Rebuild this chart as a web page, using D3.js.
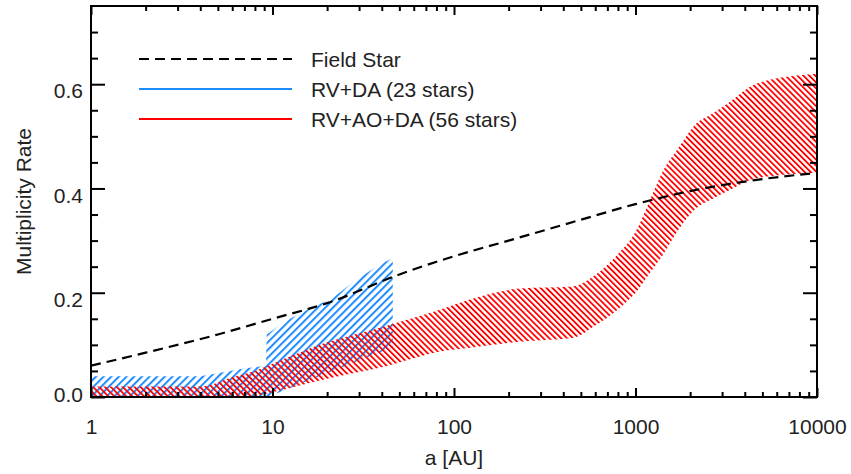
<!DOCTYPE html>
<html>
<head>
<meta charset="utf-8">
<script src="https://cdn.jsdelivr.net/npm/d3@7/dist/d3.min.js"></script>
<style>
  body { margin: 0; background: #fff; }
  text { font-family: "Liberation Sans", Arial, Helvetica, sans-serif; fill: #222; }
</style>
</head>
<body>
<svg id="chart" width="851" height="474"></svg>
<script>
// tick labels
const xTicks = [1, 10, 100, 1000, 10000];
const yTicks = [0, 0.2, 0.4, 0.6];

// field star curve
const fieldA = [1, 2, 5, 10, 20, 50, 100, 200, 500, 1000, 2000, 5000, 10000];
const fieldRate = [0.06, 0.085, 0.12, 0.15, 0.18, 0.235, 0.27, 0.30, 0.34, 0.37, 0.395, 0.418, 0.43];

// RV+DA band (23 stars)
const blueA = [1, 4, 7.1, 9.2, 9.3, 11.5, 14.1, 21.4, 28.5, 39.8, 46];
const blueLo = [0, 0, 0, 0, 0, 0.012, 0.025, 0.05, 0.067, 0.087, 0.095];
const blueHi = [0.04, 0.04, 0.055, 0.06, 0.12, 0.143, 0.16, 0.19, 0.223, 0.256, 0.266];

// RV+AO+DA band (56 stars)
const redA = [1, 4, 6, 8, 10, 20, 40, 90, 120, 230, 450, 600, 800, 1000, 1200, 1400, 1750, 2100, 2700, 3300, 4700, 10000];
const redLo = [0, 0, 0, 0.002, 0.009, 0.035, 0.057, 0.089, 0.094, 0.106, 0.113, 0.137, 0.168, 0.2, 0.238, 0.27, 0.324, 0.358, 0.381, 0.397, 0.42, 0.43];
const redHi = [0.02, 0.02, 0.038, 0.05, 0.064, 0.105, 0.134, 0.171, 0.186, 0.208, 0.212, 0.234, 0.274, 0.317, 0.377, 0.43, 0.481, 0.52, 0.545, 0.566, 0.602, 0.62];

const legendLabels = ["Field Star", "RV+DA (23 stars)", "RV+AO+DA (56 stars)"];

const blue = "#1e8cff";
const red = "#ff0000";

const svg = d3.select("#chart");
const margin = { left: 91, right: 34, top: 6, bottom: 77 };
const width = +svg.attr("width");
const height = +svg.attr("height");
const innerWidth = width - margin.left - margin.right;
const innerHeight = height - margin.top - margin.bottom;

const x = d3.scaleLog().domain([1, 10000]).range([0, innerWidth]);
const y = d3.scaleLinear().domain([0, 0.75]).range([innerHeight, 0]);

const defs = svg.append("defs");
defs.append("clipPath").attr("id", "plotClip")
  .append("rect").attr("width", innerWidth).attr("height", innerHeight);

function hatch(id, color, spacing, lw, angle) {
  const p = defs.append("pattern")
    .attr("id", id)
    .attr("patternUnits", "userSpaceOnUse")
    .attr("width", spacing)
    .attr("height", 10)
    .attr("patternTransform", `rotate(${angle})`);
  p.append("rect")
    .attr("x", 0).attr("y", 0)
    .attr("width", lw).attr("height", 10)
    .attr("fill", color);
}
hatch("blueHatch", blue, 5.4, 2, 45);
hatch("redHatch", red, 4.2, 1.8, -45);

const g = svg.append("g").attr("transform", `translate(${margin.left},${margin.top})`);
const marksG = g.append("g").attr("clip-path", "url(#plotClip)");

const blueArea = d3.area()
  .x((d, i) => x(blueA[i]))
  .y0((d, i) => y(blueLo[i]))
  .y1((d, i) => y(blueHi[i]));

const redArea = d3.area()
  .x((d, i) => x(redA[i]))
  .y0((d, i) => y(redLo[i]))
  .y1((d, i) => y(redHi[i]))
  .curve(d3.curveMonotoneX);

marksG.append("path")
  .datum(blueA)
  .attr("d", blueArea)
  .attr("fill", "url(#blueHatch)");

marksG.append("path")
  .datum(redA)
  .attr("d", redArea)
  .attr("fill", "url(#redHatch)");

const fieldLine = d3.line()
  .x((d, i) => x(fieldA[i]))
  .y((d, i) => y(fieldRate[i]))
  .curve(d3.curveMonotoneX);

marksG.append("path")
  .datum(fieldA)
  .attr("d", fieldLine)
  .attr("fill", "none")
  .attr("stroke", "#000")
  .attr("stroke-width", 2.2)
  .attr("stroke-dasharray", "10,6");

// axes
const xMinor = [];
for (let e = 0; e < 4; e++) {
  for (let m = 2; m <= 9; m++) xMinor.push(m * Math.pow(10, e));
}
const yMinor = d3.range(0.05, 0.75, 0.05).filter(v => Math.abs(v * 5 - Math.round(v * 5)) > 1e-6);

function styleAxis(sel) {
  sel.select(".domain").remove();
  sel.selectAll(".tick line").attr("stroke", "#000").attr("stroke-width", 2);
  sel.selectAll(".tick text")
    .style("font-family", "'Liberation Sans', Arial, Helvetica, sans-serif")
    .style("font-size", "21px")
    .attr("fill", "#222");
}

g.append("g").attr("transform", `translate(0,${innerHeight})`)
  .call(d3.axisBottom(x).tickValues(xTicks).tickSize(-9).tickPadding(22).tickFormat(d3.format("d")))
  .call(styleAxis);
g.append("g").attr("transform", `translate(0,${innerHeight})`)
  .call(d3.axisBottom(x).tickValues(xMinor).tickSize(-5).tickFormat(""))
  .call(styleAxis);
g.append("g")
  .call(d3.axisTop(x).tickValues(xTicks).tickSize(-9).tickFormat(""))
  .call(styleAxis);
g.append("g")
  .call(d3.axisTop(x).tickValues(xMinor).tickSize(-5).tickFormat(""))
  .call(styleAxis);

g.append("g")
  .call(d3.axisLeft(y).tickValues(yTicks).tickSize(-14).tickPadding(22).tickFormat(d3.format(".1f")))
  .call(styleAxis)
  .selectAll(".tick text")
    .attr("x", -8)
    .attr("dy", d => d === 0 ? "0.2em" : "0.65em");
g.append("g")
  .call(d3.axisLeft(y).tickValues(yMinor).tickSize(-7).tickFormat(""))
  .call(styleAxis);
g.append("g").attr("transform", `translate(${innerWidth},0)`)
  .call(d3.axisRight(y).tickValues(yTicks).tickSize(-14).tickFormat(""))
  .call(styleAxis);
g.append("g").attr("transform", `translate(${innerWidth},0)`)
  .call(d3.axisRight(y).tickValues(yMinor).tickSize(-7).tickFormat(""))
  .call(styleAxis);

// frame
g.append("rect")
  .attr("width", innerWidth).attr("height", innerHeight)
  .attr("fill", "none").attr("stroke", "#000").attr("stroke-width", 2);

// axis labels
g.append("text")
  .attr("x", innerWidth / 2)
  .attr("y", innerHeight + 68)
  .attr("text-anchor", "middle")
  .style("font-size", "21px")
  .text("a [AU]");

g.append("text")
  .attr("transform", `translate(${31 - margin.left},${innerHeight / 2}) rotate(-90)`)
  .attr("text-anchor", "middle")
  .style("font-size", "21px")
  .text("Multiplicity Rate");

// legend
const legendG = g.append("g").attr("transform", `translate(${139 - margin.left},${59 - margin.top})`);
const legendStyles = [
  { color: "#000", dash: "10,6" },
  { color: blue, dash: null },
  { color: red, dash: null }
];
legendLabels.forEach((label, i) => {
  const row = legendG.append("g").attr("transform", `translate(0,${i * 30})`);
  row.append("line")
    .attr("x1", 0).attr("x2", 153)
    .attr("stroke", legendStyles[i].color)
    .attr("stroke-width", 2)
    .attr("stroke-dasharray", legendStyles[i].dash);
  row.append("text")
    .attr("x", 172)
    .attr("y", 7.5)
    .style("font-size", "21px")
    .text(label);
});
</script>
</body>
</html>
